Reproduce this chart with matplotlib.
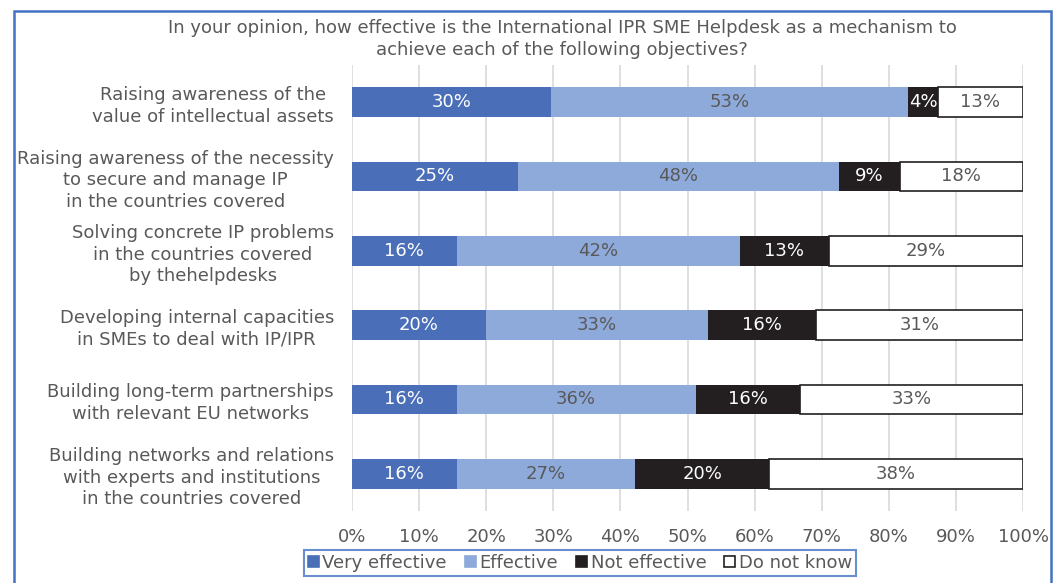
import matplotlib
matplotlib.use("Agg")
import matplotlib.pyplot as plt
from matplotlib.patches import Patch, Rectangle
import numpy as np

# data (share of respondents, %)
categories = [
    "Raising awareness of the\nvalue of intellectual assets",
    "Raising awareness of the necessity\nto secure and manage IP\nin the countries covered",
    "Solving concrete IP problems\nin the countries covered\nby thehelpdesks",
    "Developing internal capacities\nin SMEs to deal with IP/IPR",
    "Building long-term partnerships\nwith relevant EU networks",
    "Building networks and relations\nwith experts and institutions\nin the countries covered",
]
series = ["Very effective", "Effective", "Not effective", "Do not know"]
very_effective = [29.6, 24.7, 15.6, 19.9, 15.6, 15.6]
effective = [53.3, 47.9, 42.2, 33.1, 35.6, 26.6]
not_effective = [4.4, 9.0, 13.3, 16.1, 15.6, 20.0]
do_not_know = [12.7, 18.4, 28.9, 30.9, 33.2, 37.8]

colors = ["#4a6fb8", "#8eaadb", "#231f20", "#ffffff"]
text_colors = ["#ffffff", "#595959", "#ffffff", "#595959"]
gray = "#595959"
fs = 13

plt.rcParams["font.family"] = "DejaVu Sans"

fig = plt.figure(figsize=(10.54, 5.83), dpi=100)
ax = fig.add_axes([352 / 1054, 1 - 511 / 583, (1023 - 352) / 1054, (511 - 65) / 583])

y = np.arange(len(categories))
left = np.zeros(len(categories))
for vals, name, c, tc in zip([very_effective, effective, not_effective, do_not_know],
                             series, colors, text_colors):
    vals = np.array(vals)
    if name == "Do not know":
        bars = ax.barh(y, vals, left=left, height=0.4, color=c, edgecolor="#231f20",
                       linewidth=1.2, label=name, zorder=3)
    else:
        bars = ax.barh(y, vals, left=left, height=0.4, color=c, label=name, zorder=3)
    for b, v in zip(bars, vals):
        ax.text(b.get_x() + b.get_width() / 2, b.get_y() + b.get_height() / 2,
                "%.0f%%" % v, ha="center", va="center", color=tc, fontsize=fs, zorder=4)
    left += vals

ax.set_xlim(0, 100)
ax.set_ylim(len(categories) - 0.5, -0.5)
ax.set_xticks(np.arange(0, 101, 10))
ax.set_xticklabels(["%d%%" % t for t in range(0, 101, 10)])
ax.set_yticks(y)
ax.set_yticklabels(categories, multialignment="center", linespacing=1.25)
ax.tick_params(axis="both", length=0, labelsize=fs, labelcolor=gray)
ax.tick_params(axis="y", pad=13)
ax.tick_params(axis="x", pad=12)
ax.grid(axis="x", color="#d9d9d9", linewidth=1.2, zorder=0)
for s in ax.spines.values():
    s.set_visible(False)

fig.text(562 / 1054, 1 - 39 / 583,
         "In your opinion, how effective is the International IPR SME Helpdesk as a mechanism to\n"
         "achieve each of the following objectives?",
         ha="center", va="center", color=gray, fontsize=fs, linespacing=1.35)

handles = [Patch(facecolor=c, edgecolor=("#231f20" if c == "#ffffff" else c), linewidth=1.2)
           for c in colors]
leg = fig.legend(handles, series, loc="center", bbox_to_anchor=(580 / 1054, 1 - 563 / 583),
                 ncol=4, fontsize=fs, frameon=True, fancybox=False,
                 handlelength=0.6, handleheight=0.6, handletextpad=0.2,
                 columnspacing=1.0, borderpad=0.2, borderaxespad=0, labelcolor=gray)
leg.get_frame().set_edgecolor("#4472c4")
leg.get_frame().set_linewidth(1.5)

# outer frame of the figure
fig.patches.append(Rectangle((14 / 1054, -0.05), 1037 / 1054, 1.05 - 11 / 583,
                             transform=fig.transFigure, fill=False,
                             edgecolor="#4472c4", linewidth=1.8))

fig.savefig("out.png", dpi=100)
